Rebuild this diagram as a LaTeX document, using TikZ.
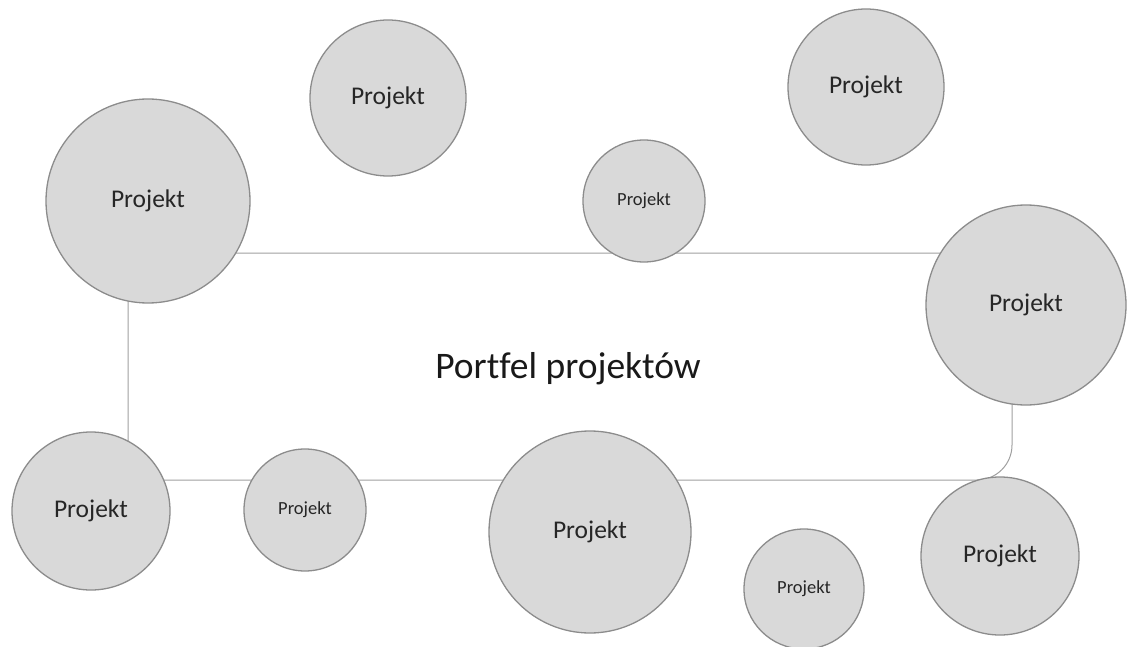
\documentclass[tikz,border=0pt]{standalone}
\usepackage{fontspec}
\setmainfont[Ligatures=NoCommon]{Carlito}
\definecolor{projfill}{HTML}{D9D9D9}
\definecolor{projline}{HTML}{8C8C8C}
\definecolor{frameline}{HTML}{A0A0A0}
\tikzset{
  proj/.style={circle, draw=projline, fill=projfill, line width=1.3pt,
    inner sep=0pt, minimum size=#1, text=black!85},
  bigtxt/.style={font=\fontsize{25.5}{30}\selectfont},
  smalltxt/.style={font=\fontsize{18.5}{22}\selectfont},
  portfolio/.style={rectangle, draw=frameline, line width=1pt,
    rounded corners=35pt, minimum width=884pt, minimum height=227pt,
    inner sep=0pt, text=black!90},
}
\begin{document}
\begin{tikzpicture}[x=1pt,y=-1pt]
  \useasboundingbox (0,0) rectangle (1127,647);
  % the portfolio frame sits behind all project circles
  \node[portfolio] (pf) at (570,366.5) {};
  \node[font=\fontsize{37.5}{44}\selectfont, text=black!90] (pft) at (568,369) {Port\kern0pt fel projektów};
  % project circles
  \node[proj=204pt, bigtxt]   (p1)  at (148,201) {Projekt};
  \node[proj=156pt, bigtxt]   (p2)  at (388,98)  {Projekt};
  \node[proj=122pt, smalltxt] (p3)  at (644,201) {Projekt};
  \node[proj=156pt, bigtxt]   (p4)  at (866,87)  {Projekt};
  \node[proj=200pt, bigtxt]   (p5)  at (1026,305) {Projekt};
  \node[proj=158pt, bigtxt]   (p6)  at (91,511)  {Projekt};
  \node[proj=122pt, smalltxt] (p7)  at (305,510) {Projekt};
  \node[proj=202pt, bigtxt]   (p8)  at (590,532) {Projekt};
  \node[proj=120pt, smalltxt] (p9)  at (804,589) {Projekt};
  \node[proj=158pt, bigtxt]   (p10) at (1000,556) {Projekt};
\end{tikzpicture}
\end{document}
